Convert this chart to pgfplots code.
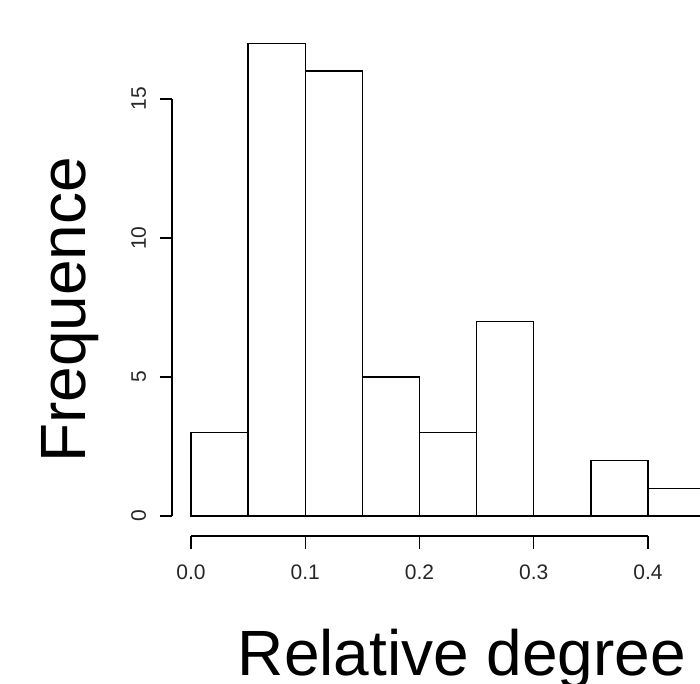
\documentclass[border=0pt]{standalone}
\usepackage{fontspec}
\setmainfont{Liberation Sans}
\usepackage{pgfplots}
\pgfplotsset{compat=1.18}
\pgfplotsset{
  rbase/.style={
    scale only axis,
    /pgf/number format/assume math mode=true,
    axis line style={line width=1.4pt, black, -},
    every tick/.style={line width=1.4pt, black},
    tick align=outside,
    major tick length=12.5pt,
    tick label style={font=\fontsize{21}{21}\selectfont, text=black!85},
  }
}
\begin{document}
\begin{tikzpicture}[x=1pt,y=1pt]
\useasboundingbox (0,0) rectangle (700,683);
\clip (0,0) rectangle (700,683);

% histogram bars
\begin{axis}[at={(191pt,167pt)}, anchor=south west, scale only axis,
  width=457pt, height=417pt, xmin=0, xmax=0.4, ymin=0, ymax=15,
  hide axis, clip=false]
\addplot[ybar interval, draw=black, fill=white, line width=1.4pt]
  coordinates {(0,3) (0.05,17) (0.1,16) (0.15,5) (0.2,3) (0.25,7)
               (0.3,0) (0.35,2) (0.4,1) (0.45,1)};
\end{axis}

% y axis (R style, detached)
\begin{axis}[rbase, at={(172pt,167pt)}, anchor=south west,
  width=20pt, height=417pt, xmin=0, xmax=1, ymin=0, ymax=15,
  axis y line*=left, hide x axis, ytick pos=left,
  ytick={0,5,10,15}, yticklabel shift=10pt,
  yticklabel style={rotate=90, anchor=south}]
\addplot[draw=none] coordinates {(0,0)};
\end{axis}

% x axis (R style, detached)
\begin{axis}[rbase, at={(191pt,147pt)}, anchor=south west,
  width=457pt, height=20pt, xmin=0, xmax=0.4, ymin=0, ymax=1,
  axis x line*=bottom, hide y axis, xtick pos=bottom,
  xtick={0,0.1,0.2,0.3,0.4}, xticklabel shift=13pt,
  xticklabel style={/pgf/number format/.cd, fixed, fixed zerofill, precision=1}]
\addplot[draw=none] coordinates {(0,0)};
\end{axis}

\node[rotate=90, anchor=base, font=\fontsize{64}{64}\selectfont] at (85,373) {Frequence};
\node[anchor=base, font=\fontsize{64}{64}\selectfont] at (462,8) {Relative degree};
\end{tikzpicture}
\end{document}
